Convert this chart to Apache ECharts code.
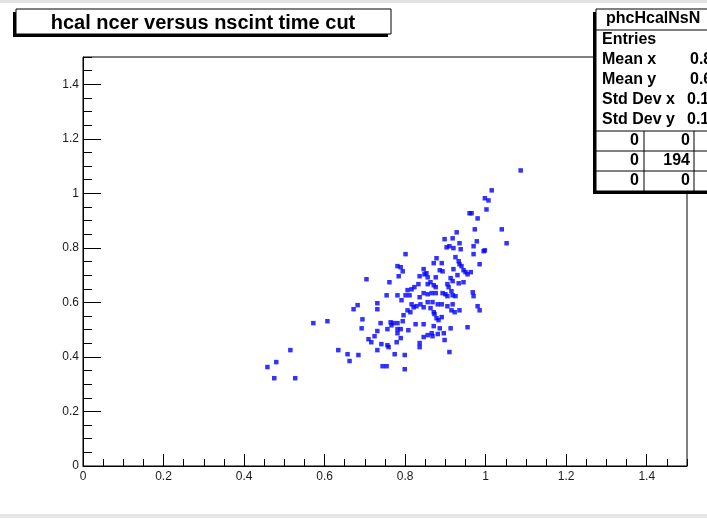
<!DOCTYPE html>
<html>
<head>
<meta charset="utf-8">
<script src="https://cdn.jsdelivr.net/npm/echarts@6/dist/echarts.min.js"></script>
<style>
  html, body { margin: 0; padding: 0; background: #fff; }
  #chart { width: 707px; height: 518px; }
</style>
</head>
<body>
<div id="chart"></div>
<script>
// nscint (x) and ncer (y) of the events passing the time cut
const nscint = [
  0.458, 0.480, 0.475, 0.515, 0.527, 0.572, 0.607, 0.634, 0.657, 0.662,
  0.684, 0.672, 0.682, 0.694, 0.692, 0.704, 0.724, 0.709, 0.716, 0.731,
  0.731, 0.731, 0.739, 0.731, 0.741, 0.744, 0.754, 0.801, 0.781, 0.789,
  0.794, 0.784, 0.761, 0.754, 0.781, 0.791, 0.801, 0.811, 0.806, 0.816,
  0.823, 0.833, 0.816, 0.821, 0.828, 0.806, 0.813, 0.796, 0.764, 0.771,
  0.781, 0.766, 0.794, 0.826, 0.756, 0.781, 0.789, 0.781, 0.808, 0.789,
  0.779, 0.756, 0.759, 0.774, 0.799, 0.799, 0.836, 0.836, 0.846, 0.853,
  0.836, 0.848, 0.856, 0.863, 0.871, 0.856, 0.876, 0.846, 0.856, 0.866,
  0.876, 0.878, 0.871, 0.891, 0.898, 0.918, 0.935, 0.903, 0.910, 0.920,
  0.938, 0.928, 0.925, 0.933, 0.935, 0.940, 0.945, 0.950, 0.955, 0.963,
  0.920, 0.886, 0.893, 0.876, 0.913, 0.918, 0.930, 0.905, 0.908, 0.933,
  0.945, 0.893, 0.900, 0.915, 0.918, 0.925, 0.905, 0.968, 0.970, 0.856,
  0.868, 0.881, 0.891, 0.905, 0.918, 0.838, 0.846, 0.863, 0.871, 0.873,
  0.923, 0.935, 0.980, 0.985, 0.878, 0.883, 0.846, 0.871, 0.886, 0.913,
  0.955, 0.846, 0.856, 0.866, 0.868, 0.881, 0.896, 0.898, 0.910, 0.970,
  0.995, 0.985, 0.978, 0.970, 0.998, 1.052, 1.040, 0.973, 0.980, 0.960,
  0.965, 1.002, 0.998, 1.007, 1.015, 1.087, 0.836, 0.915, 0.891
];
const ncer = [
  0.363, 0.381, 0.322, 0.425, 0.322, 0.524, 0.531, 0.425, 0.410, 0.385,
  0.407, 0.575, 0.590, 0.538, 0.505, 0.685, 0.476, 0.465, 0.454, 0.597,
  0.575, 0.495, 0.524, 0.425, 0.447, 0.366, 0.366, 0.777, 0.733, 0.729,
  0.714, 0.696, 0.674, 0.626, 0.626, 0.608, 0.626, 0.626, 0.645, 0.648,
  0.656, 0.667, 0.593, 0.582, 0.586, 0.571, 0.564, 0.553, 0.527, 0.524,
  0.524, 0.516, 0.531, 0.520, 0.502, 0.502, 0.502, 0.487, 0.498, 0.469,
  0.454, 0.443, 0.436, 0.410, 0.407, 0.355, 0.451, 0.436, 0.722, 0.707,
  0.696, 0.703, 0.692, 0.674, 0.663, 0.667, 0.656, 0.634, 0.630, 0.634,
  0.634, 0.762, 0.744, 0.744, 0.832, 0.835, 0.817, 0.802, 0.806, 0.799,
  0.795, 0.857, 0.766, 0.751, 0.740, 0.733, 0.718, 0.711, 0.703, 0.711,
  0.722, 0.718, 0.714, 0.692, 0.689, 0.678, 0.700, 0.667, 0.656, 0.670,
  0.674, 0.634, 0.630, 0.641, 0.626, 0.623, 0.623, 0.637, 0.623, 0.601,
  0.601, 0.593, 0.593, 0.586, 0.593, 0.593, 0.582, 0.579, 0.564, 0.557,
  0.564, 0.571, 0.586, 0.571, 0.542, 0.535, 0.520, 0.513, 0.505, 0.505,
  0.509, 0.473, 0.480, 0.487, 0.476, 0.484, 0.487, 0.462, 0.418, 0.777,
  0.788, 0.740, 0.824, 0.806, 0.791, 0.817, 0.868, 0.868, 0.908, 0.927,
  0.927, 0.941, 0.982, 0.974, 1.011, 1.084, 0.619, 0.571, 0.546
];

// axis tick labels (both axes)
const tickLabels = ['0', '0.2', '0.4', '0.6', '0.8', '1', '1.2', '1.4'];

// histogram title and statistics box contents
const titleText = 'hcal ncer versus nscint time cut';
const histName = 'phcHcalNsN';
const statLabels = ['Entries', 'Mean x', 'Mean y', 'Std Dev x', 'Std Dev y'];
const entries = 194;
const underOverflow = [[0, 0], [0, entries], [0, 0]];

const points = nscint.map((x, i) => [x, ncer[i]]);

function mean(a) { return a.reduce((s, v) => s + v, 0) / a.length; }
function stdDev(a) {
  const m = mean(a);
  return Math.sqrt(a.reduce((s, v) => s + (v - m) * (v - m), 0) / a.length);
}
const statValues = [
  null,
  mean(nscint).toFixed(4),
  mean(ncer).toFixed(4),
  stdDev(nscint).toFixed(4),
  stdDev(ncer).toFixed(4)
];

const FONT = '"Liberation Sans", Arial, Helvetica, sans-serif';
const labelFmt = v => {
  const s = String(Math.round(v * 10) / 10);
  return tickLabels.indexOf(s) >= 0 ? s : '';
};

function axisPair(dim) {
  const major = {
    type: 'value', min: 0, max: 1.5, interval: 0.2,
    position: dim === 'x' ? 'bottom' : 'left',
    axisLine: { show: true, lineStyle: { color: '#000', width: 1 } },
    axisTick: { show: true, inside: true, length: dim === 'x' ? 12 : 18, lineStyle: { color: '#000', width: 1 } },
    axisLabel: {
      show: true, margin: dim === 'x' ? 5 : 4, fontSize: 12, color: '#1a1a1a',
      fontFamily: FONT, showMaxLabel: false, formatter: labelFmt
    },
    splitLine: { show: false }
  };
  const minor = {
    type: 'value', min: 0, max: 1.5, interval: 0.05,
    position: dim === 'x' ? 'bottom' : 'left',
    axisLine: { show: false },
    axisTick: { show: true, inside: true, length: dim === 'x' ? 7 : 9, lineStyle: { color: '#000', width: 1 } },
    axisLabel: { show: false },
    splitLine: { show: false }
  };
  return [major, minor];
}

// statistics box graphics
const statsX = 596, statsTop = 9, statsBottom = 191, statsW = 140;
const statsGraphics = [
  { type: 'rect', shape: { x: statsX - 3, y: statsTop + 3, width: statsW, height: statsBottom - statsTop }, style: { fill: '#000' }, z: 100 },
  { type: 'rect', shape: { x: statsX, y: statsTop, width: statsW, height: statsBottom - statsTop }, style: { fill: '#fff', stroke: '#000', lineWidth: 1 }, z: 101 },
  { type: 'line', shape: { x1: statsX, y1: 30, x2: 707, y2: 30 }, style: { stroke: '#000', lineWidth: 1 }, z: 102 },
  { type: 'text', style: { text: histName, x: 606, y: 19, font: 'bold 16px ' + FONT, fill: '#000', align: 'left', verticalAlign: 'middle' }, z: 102 }
];
const statRowsY = [40, 60, 80, 100, 120];
statLabels.forEach((lab, i) => {
  statsGraphics.push({ type: 'text', style: { text: lab, x: 602, y: statRowsY[i], font: 'bold 16px ' + FONT, fill: '#000', align: 'left', verticalAlign: 'middle' }, z: 102 });
  if (statValues[i] !== null) {
    statsGraphics.push({ type: 'text', style: { text: statValues[i], x: i < 3 ? 690 : 687, y: statRowsY[i], font: 'bold 16px ' + FONT, fill: '#000', align: 'left', verticalAlign: 'middle' }, z: 102 });
  }
});
// under/overflow table
const tableLines = [131, 151, 171];
tableLines.forEach(y => statsGraphics.push({ type: 'line', shape: { x1: statsX, y1: y, x2: 707, y2: y }, style: { stroke: '#000', lineWidth: 1 }, z: 102 }));
[644, 694].forEach(x => statsGraphics.push({ type: 'line', shape: { x1: x, y1: 131, x2: x, y2: statsBottom }, style: { stroke: '#000', lineWidth: 1 }, z: 102 }));
underOverflow.forEach((row, r) => {
  const y = 141 + r * 20;
  statsGraphics.push({ type: 'text', style: { text: String(row[0]), x: 639, y, font: 'bold 16px ' + FONT, fill: '#000', align: 'right', verticalAlign: 'middle' }, z: 102 });
  statsGraphics.push({ type: 'text', style: { text: String(row[1]), x: 690, y, font: 'bold 16px ' + FONT, fill: '#000', align: 'right', verticalAlign: 'middle' }, z: 102 });
});

const chart = echarts.init(document.getElementById('chart'), null, { renderer: 'canvas' });
const [xMajor, xMinor] = axisPair('x');
const [yMajor, yMinor] = axisPair('y');

chart.setOption({
  animation: false,
  backgroundColor: '#fff',
  grid: { left: 83, right: 20, top: 57, bottom: 52, show: true, borderColor: '#000', borderWidth: 1, backgroundColor: 'transparent' },
  xAxis: [xMajor, xMinor],
  yAxis: [yMajor, yMinor],
  series: [{
    type: 'scatter',
    xAxisIndex: 0, yAxisIndex: 0,
    data: points,
    symbol: 'rect',
    symbolSize: 4.5,
    itemStyle: { color: '#0000ff' },
    emphasis: { disabled: true },
    silent: true
  }],
  graphic: [
    // window edges
    { type: 'rect', shape: { x: 0, y: 0, width: 707, height: 3 }, style: { fill: '#e2e2e2' }, z: 90 },
    { type: 'rect', shape: { x: 0, y: 514, width: 707, height: 4 }, style: { fill: '#e6e6e6' }, z: 90 },
    // title box with shadow
    { type: 'rect', shape: { x: 13, y: 12, width: 375, height: 25 }, style: { fill: '#000' }, z: 100 },
    { type: 'rect', shape: { x: 16, y: 9, width: 375, height: 25 }, style: { fill: '#fff', stroke: '#000', lineWidth: 1 }, z: 101 },
    { type: 'text', style: { text: titleText, x: 203, y: 23, font: 'bold 20px ' + FONT, fill: '#000', align: 'center', verticalAlign: 'middle' }, z: 102 },
    ...statsGraphics
  ]
});
</script>
</body>
</html>
